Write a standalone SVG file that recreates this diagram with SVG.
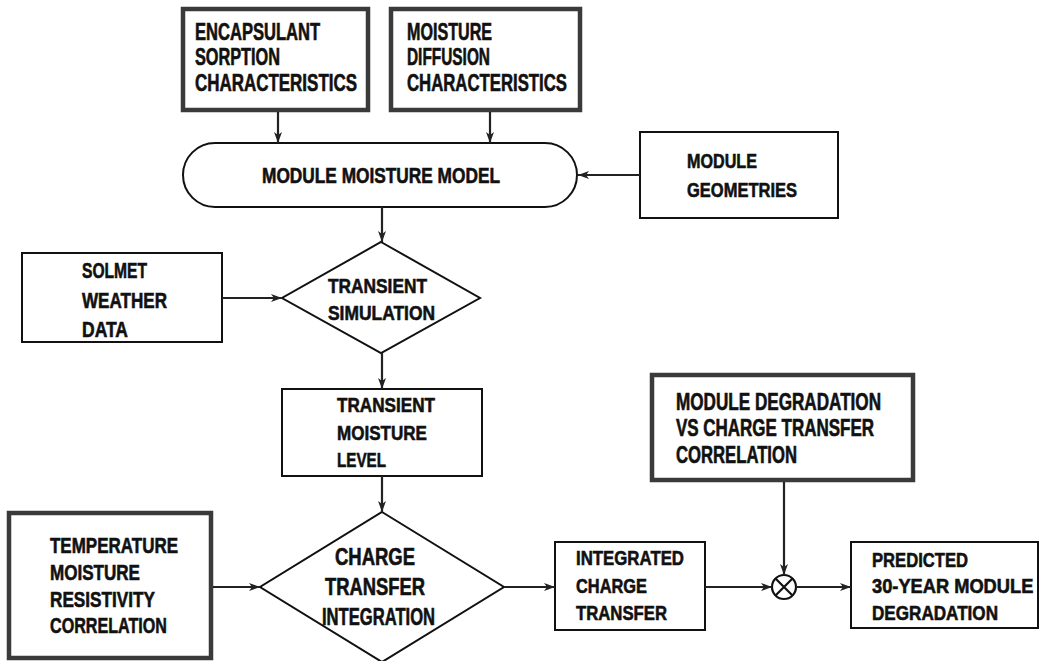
<svg xmlns="http://www.w3.org/2000/svg" width="1041" height="661" viewBox="0 0 1041 661">
<defs>
<style>
.thin{fill:#fff;stroke:#111;stroke-width:2}
.thick{fill:#fff;stroke:#3a3a3a;stroke-width:4.5}
.t{font-family:"Liberation Sans",Arial,sans-serif;font-weight:bold;fill:#111;stroke:#111;stroke-width:0.6;font-size:22px}
.c{fill:none;stroke:#222;stroke-width:2.2}
</style>
<marker id="ah" markerUnits="userSpaceOnUse" markerWidth="12" markerHeight="10" refX="11" refY="5" orient="auto">
<path d="M0,1 L11,5 L0,9 L3,5 z" fill="#222"/>
</marker>
</defs>
<rect width="1041" height="661" fill="#fff"/>

<g id="encapsulant">
<rect class="thick" x="183" y="9" width="185" height="101"/>
<text class="t" style="font-size:23px"><tspan x="195" y="40" textLength="125" lengthAdjust="spacingAndGlyphs">ENCAPSULANT</tspan><tspan x="195" y="65" textLength="85" lengthAdjust="spacingAndGlyphs">SORPTION</tspan><tspan x="195" y="91" textLength="162" lengthAdjust="spacingAndGlyphs">CHARACTERISTICS</tspan></text>
</g>

<g id="diffusion">
<rect class="thick" x="391" y="9" width="189" height="101"/>
<text class="t" style="font-size:23px"><tspan x="407" y="40" textLength="85" lengthAdjust="spacingAndGlyphs">MOISTURE</tspan><tspan x="407" y="65" textLength="83" lengthAdjust="spacingAndGlyphs">DIFFUSION</tspan><tspan x="407" y="91" textLength="160" lengthAdjust="spacingAndGlyphs">CHARACTERISTICS</tspan></text>
</g>

<g id="moisture-model">
<rect class="thin" x="183" y="143" width="394" height="64" rx="32" ry="32"/>
<text class="t" x="262" y="183" textLength="238" lengthAdjust="spacingAndGlyphs">MODULE MOISTURE MODEL</text>
</g>

<g id="geometries">
<rect class="thin" x="640" y="132" width="198" height="86"/>
<text class="t" style="font-size:21px"><tspan x="687" y="168" textLength="70" lengthAdjust="spacingAndGlyphs">MODULE</tspan><tspan x="687" y="197" textLength="110" lengthAdjust="spacingAndGlyphs">GEOMETRIES</tspan></text>
</g>

<g id="solmet">
<rect class="thin" x="22" y="253" width="200" height="89"/>
<text class="t"><tspan x="82" y="278" textLength="65" lengthAdjust="spacingAndGlyphs">SOLMET</tspan><tspan x="82" y="308" textLength="85" lengthAdjust="spacingAndGlyphs">WEATHER</tspan><tspan x="82" y="337" textLength="46" lengthAdjust="spacingAndGlyphs">DATA</tspan></text>
</g>

<g id="transient-simulation">
<polygon class="thin" points="381,242 480,298 381,353 282,298"/>
<text class="t" style="font-size:21px"><tspan x="328" y="293" textLength="99" lengthAdjust="spacingAndGlyphs">TRANSIENT</tspan><tspan x="328" y="320" textLength="107" lengthAdjust="spacingAndGlyphs">SIMULATION</tspan></text>
</g>

<g id="transient-moisture">
<rect class="thin" x="282" y="389" width="200" height="87"/>
<text class="t" style="font-size:21px"><tspan x="337" y="412" textLength="98" lengthAdjust="spacingAndGlyphs">TRANSIENT</tspan><tspan x="337" y="440" textLength="90" lengthAdjust="spacingAndGlyphs">MOISTURE</tspan><tspan x="337" y="467" textLength="49" lengthAdjust="spacingAndGlyphs">LEVEL</tspan></text>
</g>

<g id="temperature">
<rect class="thick" x="9" y="513" width="202" height="145"/>
<text class="t"><tspan x="50" y="553" textLength="128" lengthAdjust="spacingAndGlyphs">TEMPERATURE</tspan><tspan x="50" y="580" textLength="90" lengthAdjust="spacingAndGlyphs">MOISTURE</tspan><tspan x="50" y="607" textLength="105" lengthAdjust="spacingAndGlyphs">RESISTIVITY</tspan><tspan x="50" y="633" textLength="117" lengthAdjust="spacingAndGlyphs">CORRELATION</tspan></text>
</g>

<g id="charge-transfer-integration">
<polygon class="thin" points="382,512 504,587 382,662 260,587"/>
<text class="t" style="font-size:23px"><tspan x="335" y="565" textLength="80" lengthAdjust="spacingAndGlyphs">CHARGE</tspan><tspan x="325" y="595" textLength="100" lengthAdjust="spacingAndGlyphs">TRANSFER</tspan><tspan x="322" y="625" textLength="113" lengthAdjust="spacingAndGlyphs">INTEGRATION</tspan></text>
</g>

<g id="integrated">
<rect class="thin" x="555" y="542" width="150" height="88"/>
<text class="t" style="font-size:21px"><tspan x="576" y="565" textLength="108" lengthAdjust="spacingAndGlyphs">INTEGRATED</tspan><tspan x="576" y="593" textLength="71" lengthAdjust="spacingAndGlyphs">CHARGE</tspan><tspan x="576" y="620" textLength="91" lengthAdjust="spacingAndGlyphs">TRANSFER</tspan></text>
</g>

<g id="degradation-correlation">
<rect class="thick" x="652" y="375" width="261" height="105"/>
<text class="t" style="font-size:23px"><tspan x="676" y="410" textLength="205" lengthAdjust="spacingAndGlyphs">MODULE DEGRADATION</tspan><tspan x="676" y="436" textLength="198" lengthAdjust="spacingAndGlyphs">VS CHARGE TRANSFER</tspan><tspan x="676" y="463" textLength="121" lengthAdjust="spacingAndGlyphs">CORRELATION</tspan></text>
</g>

<g id="multiplier">
<circle cx="784" cy="587" r="12" fill="#fff" stroke="#111" stroke-width="2.2"/>
<path d="M775.5,578.5 L792.5,595.5 M792.5,578.5 L775.5,595.5" stroke="#111" stroke-width="2.2"/>
</g>

<g id="predicted">
<rect class="thin" x="851" y="542" width="187" height="86"/>
<text class="t" style="font-size:21px"><tspan x="872" y="567" textLength="96" lengthAdjust="spacingAndGlyphs">PREDICTED</tspan><tspan x="872" y="620" textLength="126" lengthAdjust="spacingAndGlyphs">DEGRADATION</tspan></text>
<text class="t" style="font-size:21px" transform="matrix(0.87,0,0,1,872,593)">30-YEAR MODULE</text>
</g>

<g id="connectors">
<line class="c" x1="278" y1="112" x2="278" y2="143" marker-end="url(#ah)"/>
<line class="c" x1="490" y1="112" x2="490" y2="143" marker-end="url(#ah)"/>
<line class="c" x1="640" y1="175" x2="578" y2="175" marker-end="url(#ah)"/>
<line class="c" x1="382" y1="207" x2="382" y2="242" marker-end="url(#ah)"/>
<line class="c" x1="222" y1="298" x2="282" y2="298" marker-end="url(#ah)"/>
<line class="c" x1="382" y1="353" x2="382" y2="389" marker-end="url(#ah)"/>
<line class="c" x1="382" y1="476" x2="382" y2="512" marker-end="url(#ah)"/>
<line class="c" x1="213" y1="587" x2="260" y2="587" marker-end="url(#ah)"/>
<line class="c" x1="504" y1="587" x2="555" y2="587" marker-end="url(#ah)"/>
<line class="c" x1="705" y1="587" x2="772" y2="587" marker-end="url(#ah)"/>
<line class="c" x1="784" y1="482" x2="784" y2="575" marker-end="url(#ah)"/>
<line class="c" x1="796" y1="587" x2="851" y2="587" marker-end="url(#ah)"/>
</g>
</svg>
